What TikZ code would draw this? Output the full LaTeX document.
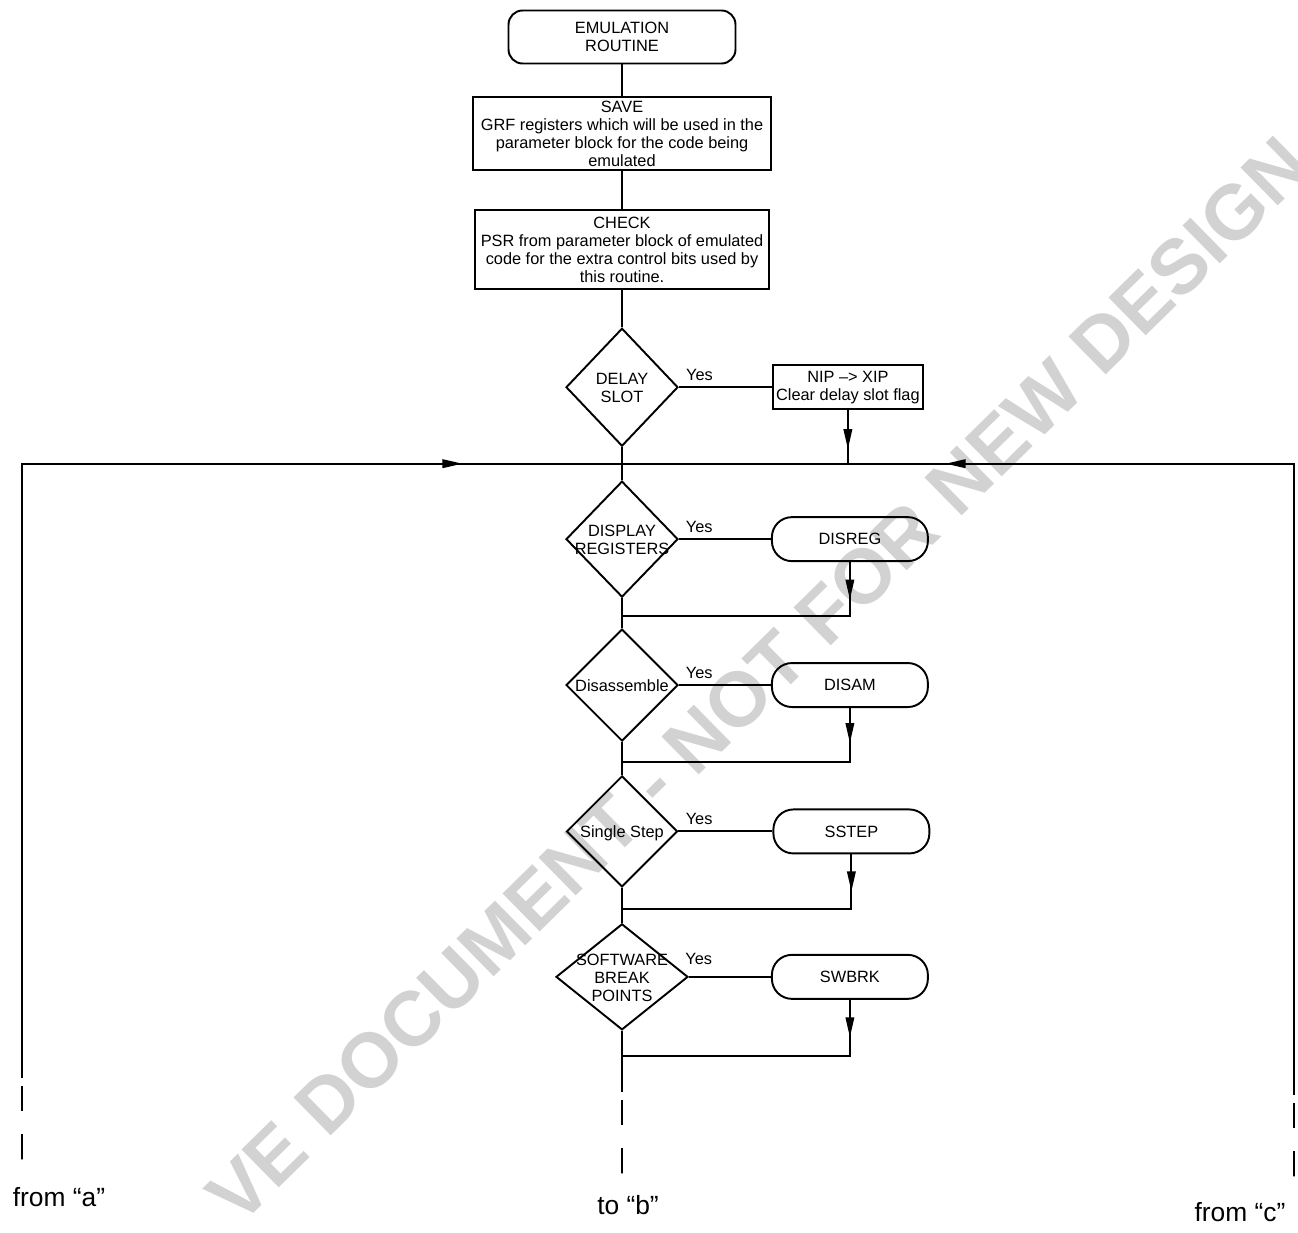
\documentclass[tikz,border=0pt]{standalone}
\usepackage{fontspec}
\setmainfont{Liberation Sans}
\usetikzlibrary{shapes.geometric,arrows.meta,positioning,calc,decorations.markings}

\newcommand{\dtext}[1]{\makebox[0pt]{\raisebox{-0.5\height}[0pt][0pt]{\begin{tabular}[b]{@{}c@{}}#1\end{tabular}}}}

\begin{document}
\begin{tikzpicture}[x=0.02cm, y=-0.02cm, line width=1.1pt,
			font=\fontsize{9.3}{10.2}\selectfont,
			terminal/.style={
					rectangle,
					draw,
					rounded corners=0.28cm,
					minimum width=4.54cm,
					minimum height=1.06cm,
					align=center,
					inner sep=0.1em
				},
			process/.style={rectangle, draw, align=center, inner sep=0.15em},
			decision/.style={diamond, draw, inner sep=0pt, minimum width=2.24cm, minimum height=2.32cm},
			subcall/.style={rectangle, draw, rounded corners=0.4cm, minimum width=3.12cm, minimum height=0.88cm},
			line/.style={draw},
			arrowat/.style={postaction={decorate}, decoration={markings, mark=at position #1 with {\arrow{Triangle[length=0.4cm,width=0.17cm]}}}},
			tail/.style={draw, dash pattern=on 0pt off 0.16cm on 0.5cm off 0.46cm on 0.5cm},
			offpage/.style={font=\fontsize{15}{17}\selectfont}
		]
		\useasboundingbox (0,0) rectangle (1298,1233);
		% Stamp over the page
		\node[rotate=44.5, text=gray!35, font=\fontsize{44}{44}\selectfont\bfseries] (stamp) at (758,680) {VE DOCUMENT - NOT FOR NEW DESIGN};
		% Place nodes
		\node [terminal] (start) at (622,37) {EMULATION\\ROUTINE};
		\node [process, minimum width=5.96cm, minimum height=1.46cm, below=0.64cm of start] (save) {SAVE\\GRF registers which will be used in the\\parameter block for the code being\\emulated};
		\node [process, minimum width=5.88cm, minimum height=1.58cm, below=0.76cm of save] (check) {CHECK\\PSR from parameter block of emulated\\code for the extra control bits used by\\this routine.};
		\node [decision, minimum height=2.36cm, below=0.74cm of check] (delay) {\dtext{DELAY\\SLOT}};
		\node [process, minimum width=3cm, minimum height=0.88cm, right=1.86cm of delay] (nipxip) {NIP --> XIP\\Clear delay slot flag};
		\node [decision, below=0.66cm of delay] (dispreg) {\dtext{DISPLAY\\REGISTERS}};
		\node [subcall, right=1.84cm of dispreg] (disreg) {DISREG};
		\node [decision, minimum height=2.24cm, below=0.6cm of dispreg] (disasm) {\dtext{Disassemble}};
		\node [subcall, right=1.84cm of disasm] (disam) {DISAM};
		\node [decision, minimum width=2.22cm, minimum height=2.22cm, below=0.66cm of disasm] (single) {\dtext{Single Step}};
		\node [subcall, right=1.88cm of single] (sstep) {SSTEP};
		\node [decision, minimum width=2.64cm, minimum height=2.12cm, below=0.7cm of single] (swbreak) {\dtext{SOFTWARE\\BREAK\\POINTS}};
		\node [subcall, right=1.64cm of swbreak] (swbrk) {SWBRK};
		% Off-page labels
		\node [offpage] (froma) at (59,1197) {from “a”};
		\node [offpage] (tob) at (628,1205) {to “b”};
		\node [offpage] (fromc) at (1240,1212) {from “c”};
		% Joins
		\coordinate (join0) at ($(delay.south)!0.5!(dispreg.north)$);
		\coordinate (join1) at ($(dispreg.south)!0.6!(disasm.north)$);
		\coordinate (join2) at ($(disasm.south)!0.6!(single.north)$);
		\coordinate (join3) at ($(single.south)!0.6!(swbreak.north)$);
		\coordinate [below=0.5cm of swbreak.south] (join4);
		\coordinate (bend) at ($(join4)+(0,36)$);
		\coordinate (bend2) at ($(bend)+(0,81)$);
		\coordinate (abot) at (22,1078);
		\coordinate (aend) at (22,1159);
		\coordinate (cbot) at (1294,1095);
		\coordinate (cend) at (1294,1176);
		% Draw edges
		\path [line] (start) -- (save);
		\path [line] (save) -- (check);
		\path [line] (check) -- (delay);
		\path [line] (delay) -- node[above, pos=0.22] {Yes} (nipxip);
		\path [line, arrowat=0.78cm] (nipxip) -- (nipxip |- join0);
		\path [line] (delay) -- (dispreg);
		\path [line] (dispreg) -- node[above, pos=0.22] {Yes} (disreg);
		\path [line, arrowat=0.75cm] (disreg) -- (disreg |- join1) -- (join1);
		\path [line] (dispreg) -- (disasm);
		\path [line] (disasm) -- node[above, pos=0.22] {Yes} (disam);
		\path [line, arrowat=0.7cm] (disam) -- (disam |- join2) -- (join2);
		\path [line] (disasm) -- (single);
		\path [line] (single) -- node[above, pos=0.22] {Yes} (sstep);
		\path [line, arrowat=0.74cm] (sstep) -- (sstep |- join3) -- (join3);
		\path [line] (single) -- (swbreak);
		\path [line] (swbreak) -- node[above=3pt, pos=0.12] {Yes} (swbrk);
		\path [line, arrowat=0.75cm] (swbrk) -- (swbrk |- join4) -- (join4);
		\path [line] (swbreak) -- (bend);
		\path [tail] (bend) -- (bend2);
		\path [line, arrowat=21.1cm] (abot) |- (join0);
		\path [tail] (abot) -- (aend);
		\path [line, arrowat=19.6cm] (cbot) |- (join0);
		\path [tail] (cbot) -- (cend);
	\end{tikzpicture}
\end{document}
